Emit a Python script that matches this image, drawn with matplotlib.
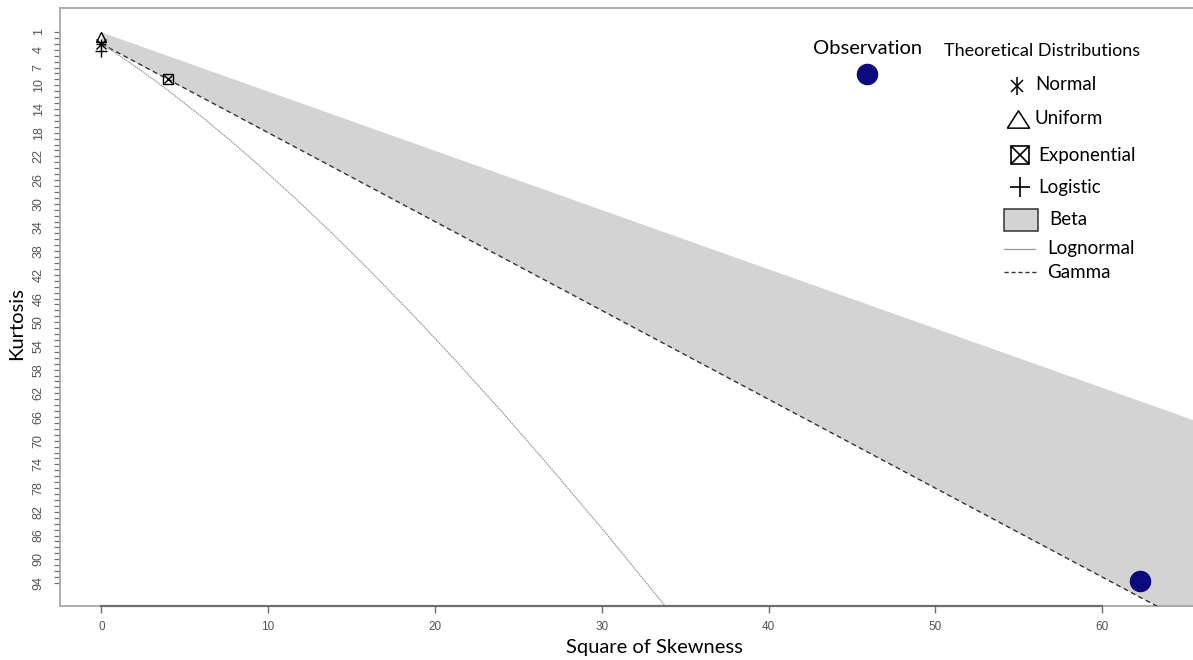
import matplotlib
matplotlib.use("Agg")
import matplotlib.pyplot as plt
from matplotlib.lines import Line2D
from matplotlib.patches import Rectangle
from matplotlib.ticker import FixedLocator, FixedFormatter

# ---- data -------------------------------------------------------------
# theoretical point distributions (square of skewness, kurtosis)
dist_names = ["Normal", "Uniform", "Exponential", "Logistic"]
dist_skew2 = [0.0, 0.0, 4.0, 0.0]
dist_kurt = [3.0, 1.8, 9.0, 4.2]

# observed sample
obs_skew2 = [62.3]
obs_kurt = [93.7]

# lognormal curve
lognormal_skew2 = [0.0, 0.47, 0.96, 2.05, 3.27, 4.62, 6.13, 7.78, 9.58,
                   11.55, 13.69, 16.0, 18.49, 21.17, 24.04, 27.1, 30.38, 33.86]
lognormal_kurt = [3.0, 3.84, 4.76, 6.85, 9.32, 12.21, 15.56, 19.43, 23.85,
                  28.88, 34.58, 41.0, 48.2, 56.25, 65.19, 75.1, 86.06, 98.1]

# gamma line (lower edge of the beta region)
gamma_skew2 = [0.0, 70.0]
gamma_kurt = [3.0, 108.0]

# upper edge of the beta region
beta_upper_skew2 = [0.0, 70.0]
beta_upper_kurt = [1.0, 71.0]

# axis ticks
x_ticks = [0, 10, 20, 30, 40, 50, 60]
y_tick_labels = [1, 4, 7, 10, 14, 18, 22, 26, 30, 34, 38, 42, 46, 50, 54,
                 58, 62, 66, 70, 74, 78, 82, 86, 90, 94]

# ---- figure -----------------------------------------------------------
W, H, DPI = 1193, 660, 100
fig = plt.figure(figsize=(W / DPI, H / DPI), dpi=DPI)


def fx(px):
    return px / W


def fy(py):
    return 1 - py / H


ax = fig.add_axes([fx(60), fy(606), fx(1193) - fx(60), fy(8) - fy(606)])
ax.set_xlim(-2.48, 65.45)
ax.set_ylim(97.9, -3.05)

BETA_GREY = "#d3d3d3"
BOX = "#a8a8a8"
AXC = "#6e6e6e"
TICKC = "#555555"

# beta region
ax.fill_between(beta_upper_skew2, beta_upper_kurt, gamma_kurt,
                color=BETA_GREY, lw=0, zorder=1)
# gamma line
ax.plot(gamma_skew2, gamma_kurt, color="#333333", lw=1.0,
        ls=(0, (3.5, 2.5)), zorder=3)
# lognormal curve
ax.plot(lognormal_skew2, lognormal_kurt, color="#9a9a9a", lw=0.9,
        ls=(0, (1.2, 0.6)), zorder=3)

# point distributions
ms = 6.5
ax.plot([dist_skew2[0]], [dist_kurt[0]], marker="x", color="black",
        ms=ms, mew=1.0, ls="none", zorder=5)
ax.plot([dist_skew2[0]], [dist_kurt[0]], marker="+", color="black",
        ms=ms * 1.2, mew=1.0, ls="none", zorder=5)
ax.plot([dist_skew2[1]], [dist_kurt[1]], marker="^", mfc="none", mec="black",
        ms=ms * 1.1, mew=1.0, ls="none", zorder=5)
ax.plot([dist_skew2[2]], [dist_kurt[2]], marker="s", mfc="none", mec="black",
        ms=ms, mew=1.0, ls="none", zorder=5)
ax.plot([dist_skew2[2]], [dist_kurt[2]], marker="x", color="black",
        ms=ms * 0.9, mew=1.0, ls="none", zorder=5)
ax.plot([dist_skew2[3]], [dist_kurt[3]], marker="+", color="black",
        ms=ms * 1.4, mew=1.0, ls="none", zorder=5)

# observation
ax.plot(obs_skew2, obs_kurt, marker="o", color="#0b0b7e", ms=14.5,
        ls="none", zorder=6)

# ---- axes styling -----------------------------------------------------
for side in ["left", "top", "bottom"]:
    ax.spines[side].set_color(BOX)
    ax.spines[side].set_linewidth(1.3)
ax.spines["right"].set_visible(False)
# darker axis line spanning the labelled x range
ax.plot([x_ticks[0], x_ticks[-1]], [97.9, 97.9], color=AXC, lw=1.6,
        clip_on=False, zorder=7)

ax.set_xticks(x_ticks)
ax.set_xticklabels([str(t) for t in x_ticks])
y_all = list(range(y_tick_labels[0], y_tick_labels[-1] + 1))
ax.yaxis.set_major_locator(FixedLocator(y_all))
ax.yaxis.set_major_formatter(FixedFormatter(
    [str(v) if v in y_tick_labels else "" for v in y_all]))

ax.tick_params(axis="x", direction="out", length=5, width=1, color=AXC,
               labelsize=8.5, labelcolor=TICKC, pad=6)
ax.tick_params(axis="y", direction="out", length=4.5, width=0.9, color=AXC,
               labelsize=9, labelcolor=TICKC, pad=6.5, labelrotation=90)
for lab in ax.get_yticklabels():
    lab.set_va("center")
    lab.set_fontfamily("Liberation Sans")
for lab in ax.get_xticklabels():
    lab.set_fontfamily("Liberation Sans")

LABEL_FONT = "Lato"
fig.text(fx(654), fy(647), "Square of Skewness", ha="center", va="center",
         fontsize=14.5, family=LABEL_FONT, color="black")
fig.text(fx(17), fy(324), "Kurtosis", ha="center", va="center",
         rotation=90, fontsize=14.5, family=LABEL_FONT, color="black")

# ---- legend -----------------------------------------------------------
fig.text(fx(868), fy(48), "Observation", ha="center", va="center",
         fontsize=14.5, family=LABEL_FONT)
fig.add_artist(Line2D([fx(867)], [fy(74)], transform=fig.transFigure,
                      marker="o", color="#0b0b7e", ms=14.5, ls="none"))

fig.text(fx(1042), fy(51), "Theoretical Distributions", ha="center",
         va="center", fontsize=13, family=LABEL_FONT)

lk = dict(transform=fig.transFigure, ls="none", color="black")
# Normal
fig.add_artist(Line2D([fx(1017)], [fy(86)], marker="x", ms=9, mew=1.1, **lk))
fig.add_artist(Line2D([fx(1017)], [fy(86)], marker="|", ms=13, mew=1.1, **lk))
# Uniform
fig.add_artist(Line2D([fx(1018)], [fy(119)],
                      marker=[(-1, -0.78), (1, -0.78), (0, 0.78), (-1, -0.78)],
                      ms=16, mfc="none", mec="black", mew=1.1,
                      transform=fig.transFigure, ls="none"))
# Exponential
fig.add_artist(Line2D([fx(1020)], [fy(155)], marker="s", ms=13.5, mfc="none",
                      mec="black", mew=1.2, transform=fig.transFigure, ls="none"))
fig.add_artist(Line2D([fx(1020)], [fy(155)], marker="x", ms=13, mew=1.2, **lk))
# Logistic
fig.add_artist(Line2D([fx(1020)], [fy(187)], marker="+", ms=15, mew=1.2, **lk))
# Beta
fig.add_artist(Rectangle((fx(1004), fy(231)), fx(34), fy(0) - fy(22),
                         transform=fig.transFigure, facecolor=BETA_GREY,
                         edgecolor="#333333", lw=1.1))
# Lognormal
fig.add_artist(Line2D([fx(1004), fx(1035)], [fy(249), fy(249)],
                      transform=fig.transFigure, color="#9a9a9a", lw=0.9))
# Gamma
fig.add_artist(Line2D([fx(1004), fx(1036)], [fy(272), fy(272)],
                      transform=fig.transFigure, color="#333333", lw=1.0,
                      ls=(0, (3, 2))))

leg_font = dict(fontsize=13.5, family=LABEL_FONT, va="center", ha="left")
fig.text(fx(1035), fy(84), "Normal", **leg_font)
fig.text(fx(1035), fy(119), "Uniform", **leg_font)
fig.text(fx(1038), fy(155), "Exponential", **leg_font)
fig.text(fx(1038), fy(187), "Logistic", **leg_font)
fig.text(fx(1049), fy(220), "Beta", **leg_font)
fig.text(fx(1047), fy(249), "Lognormal", **leg_font)
fig.text(fx(1047), fy(273), "Gamma", **leg_font)

fig.savefig("out.png", dpi=DPI)
